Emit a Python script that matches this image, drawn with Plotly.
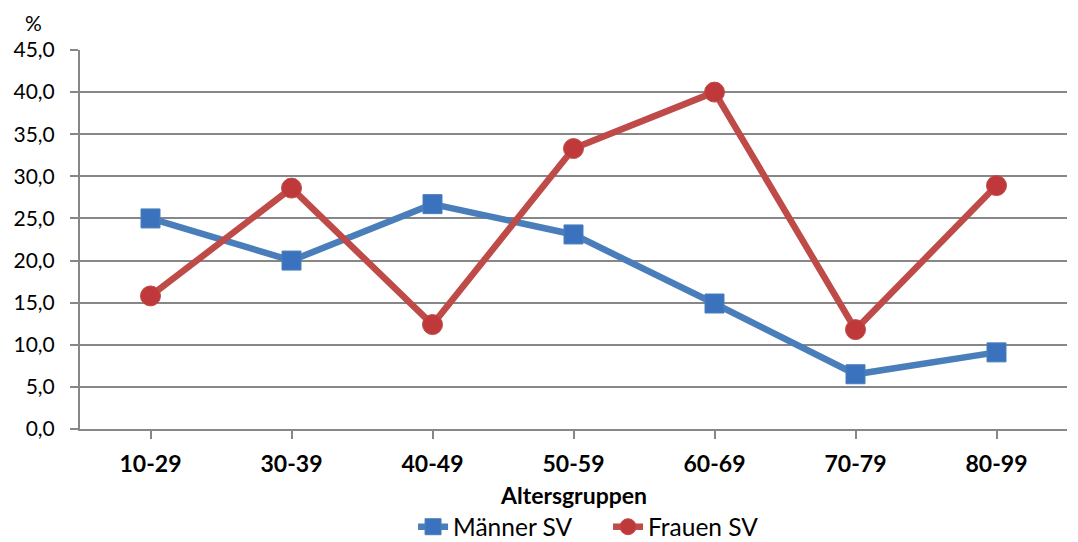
import plotly.graph_objects as go

categories = ["10-29", "30-39", "40-49", "50-59", "60-69", "70-79", "80-99"]
maenner = [25.0, 20.0, 26.7, 23.1, 14.9, 6.5, 9.1]
frauen = [15.8, 28.6, 12.4, 33.3, 40.0, 11.8, 28.9]
y_ticks = [0, 5, 10, 15, 20, 25, 30, 35, 40, 45]

FONT = "Lato, Carlito, Calibri, sans-serif"
GRID = "#878787"

fig = go.Figure()
fig.add_trace(go.Scatter(
    x=categories, y=maenner, name="Männer SV", mode="lines+markers",
    line=dict(color="#4a7ebb", width=6.5),
    marker=dict(symbol="square", size=19, color="#3a72bd",
                line=dict(color="#4a7ebb", width=1)),
))
fig.add_trace(go.Scatter(
    x=categories, y=frauen, name="Frauen SV", mode="lines+markers",
    line=dict(color="#be4b48", width=6.5),
    marker=dict(symbol="circle", size=20, color="#c0393a",
                line=dict(color="#be4b48", width=1)),
))

fig.update_layout(
    width=1078, height=542,
    margin=dict(l=80, r=11, t=50, b=113, autoexpand=False),
    paper_bgcolor="white", plot_bgcolor="white",
    separators=",.",
    font=dict(family=FONT, size=21, color="black"),
    showlegend=True,
    legend=dict(orientation="h", x=0.535, xanchor="center", y=-0.258, yanchor="middle",
                font=dict(size=24.5), tracegroupgap=0, entrywidth=150,
                bgcolor="rgba(0,0,0,0)"),
    xaxis=dict(
        type="category", range=[-0.5, 6.5],
        showgrid=False, showline=True, linecolor=GRID, linewidth=2,
        ticks="outside", ticklen=8, tickcolor=GRID, tickwidth=2,
        ticklabelstandoff=5,
        tickfont=dict(family=FONT, size=23, color="black", weight="bold"),
        fixedrange=True,
    ),
    yaxis=dict(
        range=[0, 45], tickvals=y_ticks, tickformat=".1f",
        showgrid=True, gridcolor=GRID, gridwidth=2,
        showline=True, linecolor=GRID, linewidth=2,
        ticks="outside", ticklen=8, tickcolor=GRID, tickwidth=2,
        ticklabelstandoff=11,
        tickfont=dict(family=FONT, size=21, color="black"),
        zeroline=False, fixedrange=True,
    ),
    annotations=[
        dict(text="%", xref="paper", yref="paper", x=-0.047, y=1.0, yshift=28,
             xanchor="center", yanchor="middle", showarrow=False,
             font=dict(family=FONT, size=21, color="black")),
        dict(text="<b>Altersgruppen</b>", xref="paper", yref="paper", x=0.5, y=-0.174,
             xanchor="center", yanchor="middle", showarrow=False,
             font=dict(family=FONT, size=23, color="black")),
    ],
)

fig.write_html("out.html")
